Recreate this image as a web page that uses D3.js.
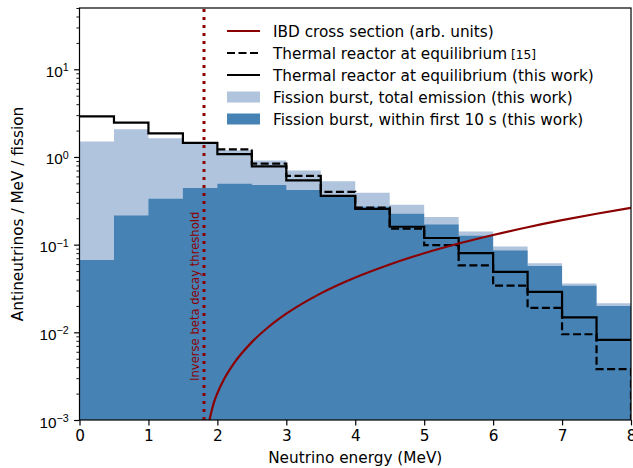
<!DOCTYPE html>
<html>
<head>
<meta charset="utf-8">
<script src="https://cdn.jsdelivr.net/npm/d3@7"></script>
<style>
  body { margin: 0; background: #fff; }
  svg { display: block; font-family: 'DejaVu Sans', sans-serif; }
</style>
</head>
<body>
<div id="chart"></div>
<script>
const width = 633;
const height = 468;
const plot = { left: 79.5, right: 631, top: 8, bottom: 420 };

// histogram bin edges (MeV)
const binEdges = [0, 0.5, 1, 1.5, 2, 2.5, 3, 3.5, 4, 4.5, 5, 5.5, 6, 6.5, 7, 7.5, 8];

// fission burst, total emission (this work)
const totalEmission = [1.50, 2.07, 1.63, 1.41, 1.19, 0.91, 0.70, 0.53, 0.39, 0.285, 0.207, 0.141, 0.095, 0.0615, 0.036, 0.0214];
// fission burst, within first 10 s (this work)
const first10s = [0.067, 0.215, 0.334, 0.442, 0.495, 0.48, 0.42, 0.36, 0.27, 0.225, 0.17, 0.126, 0.086, 0.057, 0.034, 0.020];
// thermal reactor at equilibrium (this work)
const thermalThisWork = [2.91, 2.47, 1.86, 1.45, 1.08, 0.78, 0.54, 0.36, 0.255, 0.16, 0.119, 0.080, 0.049, 0.029, 0.0148, 0.0082];
// thermal reactor at equilibrium [15], starts at 2 MeV
const ref15Edges = [2, 2.5, 3, 3.5, 4, 4.5, 5, 5.5, 6, 6.5, 7, 7.5, 8];
const thermalRef15 = [1.22, 0.84, 0.61, 0.40, 0.265, 0.152, 0.099, 0.058, 0.034, 0.019, 0.0095, 0.0038];

// IBD cross section (arb. units)
const ibdEnergy = [1.885, 1.95, 2.0, 2.1, 2.25, 2.5, 2.75, 3, 3.5, 4, 4.5, 5, 5.5, 6, 6.5, 7, 7.5, 8];
const ibdValue = [0.001, 0.00159, 0.00202, 0.00295, 0.00454, 0.00773, 0.01165, 0.0163, 0.0278, 0.0422, 0.0595, 0.0798, 0.103, 0.129, 0.158, 0.190, 0.225, 0.263];

const ibdThreshold = 1.806;

const xTicks = [0, 1, 2, 3, 4, 5, 6, 7, 8];
const yTicks = [1e-3, 1e-2, 1e-1, 1, 10];
const yExponents = ['−3', '−2', '−1', '0', '1'];

const fontSize = 15.3;
const darkRed = '#8b0000';
const lightBlue = '#b0c4de';
const steelBlue = '#4682b4';

const svg = d3.select('#chart').append('svg')
  .attr('width', width)
  .attr('height', height);

const x = d3.scaleLinear().domain([0, 8]).range([plot.left, plot.right]);
const y = d3.scaleLog().domain([1e-3, 50]).range([plot.bottom, plot.top]);

svg.append('clipPath').attr('id', 'clip')
  .append('rect')
  .attr('x', plot.left).attr('y', plot.top)
  .attr('width', plot.right - plot.left)
  .attr('height', plot.bottom - plot.top);

const body = svg.append('g').attr('clip-path', 'url(#clip)');

// step data: one point per edge, last value repeated at the final edge
const stepData = (edges, vals) => edges.map((e, i) => ({ e, v: vals[Math.min(i, vals.length - 1)] }));

const area = d3.area()
  .curve(d3.curveStepAfter)
  .x((d) => x(d.e))
  .y0(y(1e-3))
  .y1((d) => y(d.v));

const stepLine = d3.line()
  .curve(d3.curveStepAfter)
  .x((d) => x(d.e))
  .y((d) => y(d.v));

body.append('path')
  .attr('d', area(stepData(binEdges, totalEmission)))
  .attr('fill', lightBlue);

body.append('path')
  .attr('d', area(stepData(binEdges, first10s)))
  .attr('fill', steelBlue);

body.append('path')
  .attr('d', stepLine(stepData(binEdges, thermalThisWork)))
  .attr('fill', 'none')
  .attr('stroke', '#000')
  .attr('stroke-width', 2.2);

// dashed reference spectrum drops to the floor at 8 MeV
const refData = stepData(ref15Edges, thermalRef15).concat([{ e: 8, v: 1e-4 }]);
body.append('path')
  .attr('d', stepLine(refData))
  .attr('fill', 'none')
  .attr('stroke', '#000')
  .attr('stroke-width', 2.2)
  .attr('stroke-dasharray', '8,3.5');

const ibdLine = d3.line()
  .curve(d3.curveMonotoneX)
  .x((d, i) => x(ibdEnergy[i]))
  .y((d) => y(d));

body.append('path')
  .attr('d', ibdLine(ibdValue))
  .attr('fill', 'none')
  .attr('stroke', darkRed)
  .attr('stroke-width', 2.2);

// threshold marker
body.append('line')
  .attr('x1', x(ibdThreshold)).attr('x2', x(ibdThreshold))
  .attr('y1', plot.bottom).attr('y2', plot.top)
  .attr('stroke', darkRed)
  .attr('stroke-width', 3)
  .attr('stroke-dasharray', '3,5');

svg.append('text')
  .attr('transform', `translate(${x(ibdThreshold) - 5.5}, 381) rotate(-90)`)
  .attr('font-size', 11.6)
  .attr('fill', darkRed)
  .text('Inverse beta decay threshold');

// axes
const xAxis = svg.append('g')
  .attr('transform', `translate(0, ${plot.bottom})`)
  .call(d3.axisBottom(x).tickValues(xTicks).tickSize(5.4).tickPadding(5).tickSizeOuter(0));
xAxis.select('.domain').remove();
xAxis.selectAll('text').attr('font-size', fontSize).attr('fill', '#000').attr('font-family', 'DejaVu Sans');
xAxis.selectAll('line').attr('stroke-width', 1.2);

const yMinor = [];
[1e-3, 1e-2, 1e-1, 1, 10].forEach((b) => {
  for (let k = 2; k <= 9; k++) if (b * k <= 50) yMinor.push(b * k);
});

const yMinorAxis = svg.append('g')
  .attr('transform', `translate(${plot.left}, 0)`)
  .call(d3.axisLeft(y).tickValues(yMinor).tickSize(3.1).tickFormat(() => '').tickSizeOuter(0));
yMinorAxis.select('.domain').remove();
yMinorAxis.selectAll('line').attr('stroke-width', 0.9);

const yAxis = svg.append('g')
  .attr('transform', `translate(${plot.left}, 0)`)
  .call(d3.axisLeft(y).tickValues(yTicks).tickSize(5.4).tickFormat(() => '').tickSizeOuter(0));
yAxis.select('.domain').remove();
yAxis.selectAll('line').attr('stroke-width', 1.2);

yAxis.selectAll('.tick').each(function (d, i) {
  const t = d3.select(this).append('text')
    .attr('x', -10.8)
    .attr('y', 7)
    .attr('text-anchor', 'end')
    .attr('fill', '#000')
    .attr('font-size', fontSize);
  t.append('tspan').text('10');
  t.append('tspan')
    .attr('dy', '-0.5em')
    .attr('font-size', fontSize * 0.7)
    .text(yExponents[i]);
});

svg.append('rect')
  .attr('x', plot.left).attr('y', plot.top)
  .attr('width', plot.right - plot.left)
  .attr('height', plot.bottom - plot.top)
  .attr('fill', 'none')
  .attr('stroke', '#000')
  .attr('stroke-width', 1.2);

svg.append('text')
  .attr('x', (plot.left + plot.right) / 2)
  .attr('y', 463)
  .attr('text-anchor', 'middle')
  .attr('font-size', fontSize)
  .text('Neutrino energy (MeV)');

svg.append('text')
  .attr('transform', `translate(23, ${(plot.top + plot.bottom) / 2}) rotate(-90)`)
  .attr('text-anchor', 'middle')
  .attr('font-size', fontSize)
  .text('Antineutrinos / MeV / fission');

// legend
const legendItems = [
  { label: 'IBD cross section (arb. units)', kind: 'line', color: darkRed },
  { label: 'Thermal reactor at equilibrium', ref: '[15]', kind: 'line', color: '#000', dash: '8,3.5' },
  { label: 'Thermal reactor at equilibrium (this work)', kind: 'line', color: '#000' },
  { label: 'Fission burst, total emission (this work)', kind: 'patch', color: lightBlue },
  { label: 'Fission burst, within first 10 s (this work)', kind: 'patch', color: steelBlue },
];

const legend = svg.append('g').attr('transform', 'translate(227, 31)');
const rows = legend.selectAll('g').data(legendItems).enter().append('g')
  .attr('transform', (d, i) => `translate(0, ${i * 22})`);

rows.filter((d) => d.kind === 'line').append('line')
  .attr('x1', 0).attr('x2', 33)
  .attr('stroke', (d) => d.color)
  .attr('stroke-width', 2.2)
  .attr('stroke-dasharray', (d) => d.dash || null);

rows.filter((d) => d.kind === 'patch').append('rect')
  .attr('x', 0).attr('y', -5.5)
  .attr('width', 33).attr('height', 11)
  .attr('fill', (d) => d.color);

const labels = rows.append('text')
  .attr('x', 46)
  .attr('y', 5.5)
  .attr('font-size', fontSize);
labels.append('tspan').text((d) => d.label);
labels.filter((d) => d.ref).append('tspan')
  .attr('font-size', 12.2)
  .text((d) => ' ' + d.ref);
</script>
</body>
</html>
